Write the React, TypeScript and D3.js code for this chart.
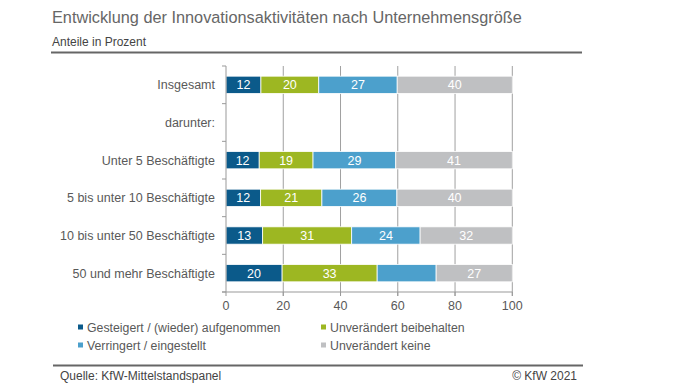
import * as d3 from 'd3';

const categories = [
  'Insgesamt',
  'darunter:',
  'Unter 5 Beschäftigte',
  '5 bis unter 10 Beschäftigte',
  '10 bis unter 50 Beschäftigte',
  '50 und mehr Beschäftigte',
];

// shares in percent (labels are the rounded values)
const gesteigert = [12.2, null, 11.6, 12.1, 12.8, 19.6];
const beibehalten = [20.2, null, 18.8, 21.4, 31.1, 33.2];
const verringert = [27.4, null, 28.9, 26.2, 23.9, 20.6];
const keine = [40.2, null, 40.7, 40.3, 32.2, 26.6];

const seriesNames = [
  'Gesteigert / (wieder) aufgenommen',
  'Unverändert beibehalten',
  'Verringert / eingestellt',
  'Unverändert keine',
];
const seriesColors = ['#0b5a8a', '#9db722', '#4ca0cc', '#bfc0c2'];

// the reference leaves this one segment unlabelled
const hiddenLabels = [{ series: 2, category: '50 und mehr Beschäftigte' }];

const xTicks = [0, 20, 40, 60, 80, 100];

const W = 696;
const H = 392;
const font = '"Liberation Sans", Arial, sans-serif';
const textColor = '#595959';

export default function App() {
  const x = d3.scaleLinear().domain([0, 100]).range([226, 512.3]);
  const y = d3.scaleBand<string>().domain(categories).range([66, 292]).paddingInner(0.54).paddingOuter(0.27);
  const yOuter = d3.scaleBand<string>().domain(categories).range([66, 292]);

  const rows = categories.map((c, i) => ({
    category: c,
    values: [gesteigert[i], beibehalten[i], verringert[i], keine[i]],
  }));

  const segments: Array<{ cat: string; s: number; x0: number; x1: number; v: number }> = [];
  rows.forEach((r) => {
    if (r.values.some((v) => v == null)) return;
    let acc = 0;
    r.values.forEach((v, s) => {
      segments.push({ cat: r.category, s, x0: acc, x1: acc + (v as number), v: v as number });
      acc += v as number;
    });
  });

  const bandEdges = categories.map((c) => yOuter(c) as number).concat([292]);

  const legend = [
    { s: 0, x: 78, y: 332 },
    { s: 1, x: 321, y: 332 },
    { s: 2, x: 78, y: 350 },
    { s: 3, x: 321, y: 350 },
  ];

  return (
    <svg width={W} height={H} style={{ position: 'absolute', left: 0, top: 0, background: '#fff' }} fontFamily={font}>
      <rect width={W} height={H} fill="#fff" />
      {/* title block */}
      <text x={52} y={23} fontSize={16.3} fill="#666">
        Entwicklung der Innovationsaktivitäten nach Unternehmensgröße
      </text>
      <text x={52} y={46} fontSize={12} fill="#444">
        Anteile in Prozent
      </text>
      <line x1={51} x2={582} y1={52.5} y2={52.5} stroke="#666" strokeWidth={2} />

      {/* gridlines */}
      {xTicks.slice(1).map((t) => (
        <line key={'g' + t} x1={x(t)} x2={x(t)} y1={66} y2={296} stroke="#a0a0a0" strokeWidth={1} />
      ))}

      {/* bars */}
      {segments.map((d, i) => (
        <rect
          key={i}
          x={x(d.x0)}
          width={x(d.x1) - x(d.x0)}
          y={y(d.cat)}
          height={y.bandwidth()}
          fill={seriesColors[d.s]}
          stroke="#fff"
          strokeWidth={0.8}
        />
      ))}
      {segments
        .filter((d) => !hiddenLabels.some((h) => h.series === d.s && h.category === d.cat))
        .map((d, i) => (
          <text
            key={'l' + i}
            x={(x(d.x0) + x(d.x1)) / 2}
            y={(y(d.cat) as number) + y.bandwidth() / 2 + 4.5}
            textAnchor="middle"
            fontSize={12.5}
            fill="#fff"
          >
            {Math.round(d.v)}
          </text>
        ))}

      {/* y axis */}
      <line x1={226} x2={226} y1={66} y2={292} stroke="#999" strokeWidth={1} />
      {bandEdges.map((e, i) => (
        <line key={'yt' + i} x1={222} x2={226} y1={e} y2={e} stroke="#999" strokeWidth={1} />
      ))}
      {categories.map((c) => (
        <text
          key={'c' + c}
          x={215}
          y={(yOuter(c) as number) + yOuter.bandwidth() / 2 + 4.5}
          textAnchor="end"
          fontSize={12.5}
          fill={textColor}
        >
          {c}
        </text>
      ))}

      {/* x axis */}
      <line x1={222} x2={x(100)} y1={292} y2={292} stroke="#999" strokeWidth={1} />
      {xTicks.map((t) => (
        <g key={'xt' + t}>
          <line x1={x(t)} x2={x(t)} y1={292} y2={296} stroke="#999" strokeWidth={1} />
          <text x={x(t)} y={310} textAnchor="middle" fontSize={12.5} fill={textColor}>
            {t}
          </text>
        </g>
      ))}

      {/* legend */}
      {legend.map((l) => (
        <g key={'lg' + l.s}>
          <rect x={l.x} y={l.y - 7.5} width={5} height={5} fill={seriesColors[l.s]} />
          <text x={l.x + 9} y={l.y} fontSize={12.3} fill={textColor}>
            {seriesNames[l.s]}
          </text>
        </g>
      ))}

      {/* footer */}
      <line x1={53} x2={583} y1={365.5} y2={365.5} stroke="#666" strokeWidth={2} />
      <text x={60} y={380} fontSize={12} fill="#444">
        Quelle: KfW-Mittelstandspanel
      </text>
      <text x={577} y={380} fontSize={12} fill="#444" textAnchor="end">
        © KfW 2021
      </text>
    </svg>
  );
}
